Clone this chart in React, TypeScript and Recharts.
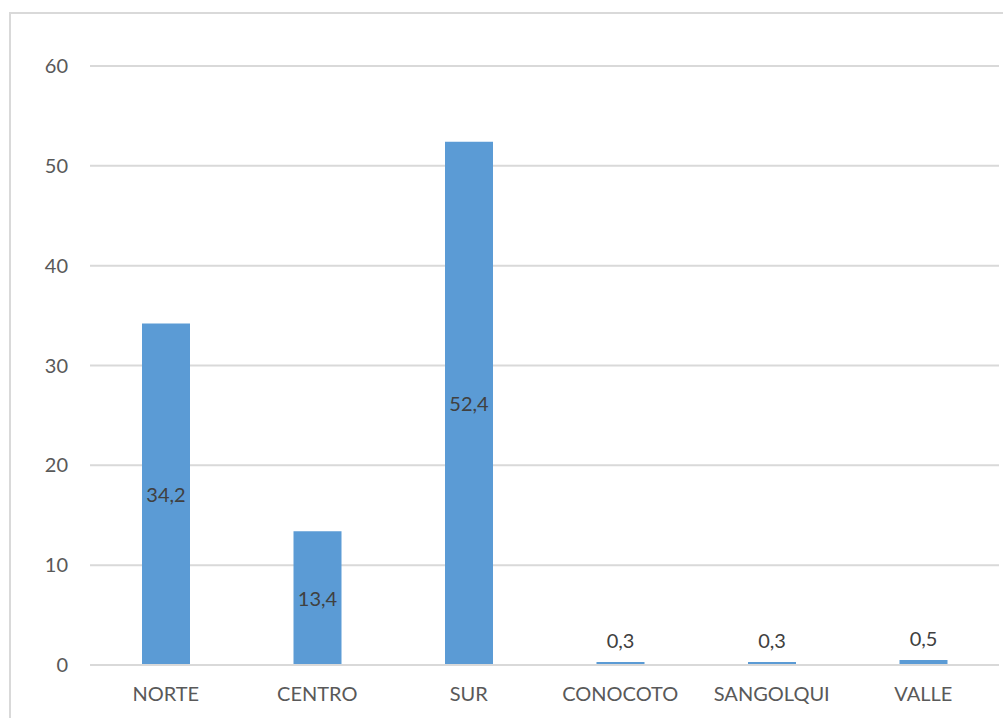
import React from "react";
import { BarChart, Bar, XAxis, YAxis, CartesianGrid, LabelList } from "recharts";

const zones = ["NORTE", "CENTRO", "SUR", "CONOCOTO", "SANGOLQUI", "VALLE"];
const percentages = [34.2, 13.4, 52.4, 0.3, 0.3, 0.5];
const yTicks = [0, 10, 20, 30, 40, 50, 60];

const data = zones.map((zone, i) => ({ zone, value: percentages[i] }));

const FONT = "Lato, 'Liberation Sans', sans-serif";
const TEXT = "#595959";
const GRID = "#d9d9d9";

const fmt = (v: number) => v.toFixed(1).replace(".", ",");

// Tall bars carry their value in the middle, short ones just above the top.
const ValueLabel = (props: any) => {
  const { x, y, width, height, value } = props;
  const cx = x + width / 2;
  const inside = height > 40;
  const ty = inside ? y + height / 2 : y - 22;
  return (
    <text
      x={cx}
      y={ty}
      textAnchor="middle"
      dominantBaseline="central"
      fill="#404040"
      fontFamily={FONT}
      fontSize={20}
    >
      {fmt(value)}
    </text>
  );
};

export default function App() {
  return (
    <div
      style={{
        position: "absolute",
        left: 0,
        top: 0,
        width: 1003,
        height: 718,
        overflow: "hidden",
        background: "#fff",
      }}
    >
      <div
        style={{
          position: "absolute",
          left: 9,
          top: 12,
          width: 1100,
          height: 800,
          border: "2px solid #d9d9d9",
          boxSizing: "border-box",
        }}
      />
      <div style={{ position: "absolute", left: 0, top: 0 }}>
        <BarChart
          width={1003}
          height={718}
          data={data}
          margin={{ top: 66, right: 4, bottom: 23, left: 30 }}
          barCategoryGap={0}
        >
          <CartesianGrid vertical={false} stroke={GRID} strokeWidth={2} />
          <XAxis
            dataKey="zone"
            axisLine={{ stroke: GRID, strokeWidth: 2 }}
            tickLine={false}
            tickMargin={16}
            height={30}
            interval={0}
            tick={{ fill: TEXT, fontFamily: FONT, fontSize: 20 }}
          />
          <YAxis
            domain={[0, 60]}
            ticks={yTicks}
            axisLine={false}
            tickLine={false}
            tickMargin={16}
            width={60}
            tick={{ fill: TEXT, fontFamily: FONT, fontSize: 20 }}
          />
          <Bar dataKey="value" fill="#5b9bd5" barSize={48} isAnimationActive={false}>
            <LabelList dataKey="value" content={<ValueLabel />} />
          </Bar>
        </BarChart>
      </div>
    </div>
  );
}
